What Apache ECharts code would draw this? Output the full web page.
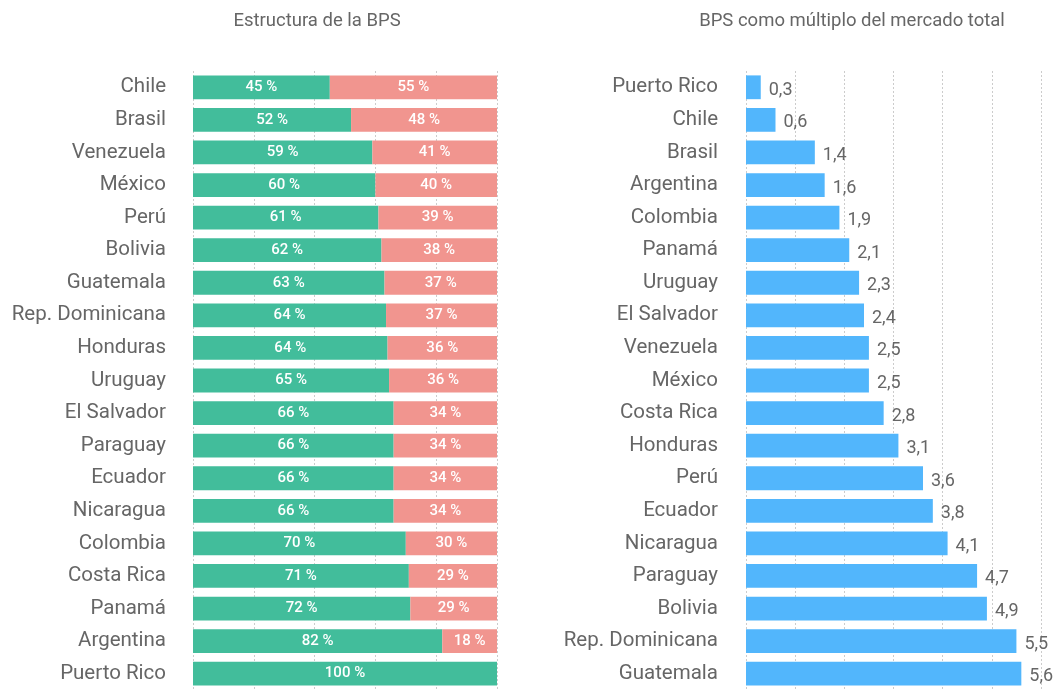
<!DOCTYPE html>
<html>
<head>
<meta charset="utf-8">
<script src="https://cdn.jsdelivr.net/npm/echarts@6/dist/echarts.min.js"></script>
<style>
html, body { margin: 0; padding: 0; background: #fff; }
#main { width: 1063px; height: 690px; }
</style>
</head>
<body>
<div id="main"></div>
<script>
// izquierda: estructura de la BPS (%)
var paisesEstructura = ['Chile', 'Brasil', 'Venezuela', 'México', 'Perú', 'Bolivia', 'Guatemala',
	'Rep. Dominicana', 'Honduras', 'Uruguay', 'El Salvador', 'Paraguay', 'Ecuador', 'Nicaragua',
	'Colombia', 'Costa Rica', 'Panamá', 'Argentina', 'Puerto Rico'];
var parteVerde = [45, 52, 59, 60, 61, 62, 63, 63.5, 64, 64.5, 66, 66, 66, 66, 70, 71, 71.5, 82, 100];
var parteRoja = [55, 48, 41, 40, 39, 38, 37, 36.5, 36, 35.5, 34, 34, 34, 34, 30, 29, 28.5, 18, 0];

// derecha: BPS como multiplo del mercado total
var paisesMultiplo = ['Puerto Rico', 'Chile', 'Brasil', 'Argentina', 'Colombia', 'Panamá', 'Uruguay',
	'El Salvador', 'Venezuela', 'México', 'Costa Rica', 'Honduras', 'Perú', 'Ecuador', 'Nicaragua',
	'Paraguay', 'Bolivia', 'Rep. Dominicana', 'Guatemala'];
var multiplo = [0.3, 0.6, 1.4, 1.6, 1.9, 2.1, 2.3, 2.4, 2.5, 2.5, 2.8, 3.1, 3.6, 3.8, 4.1, 4.7, 4.9, 5.5, 5.6];

var fuente = 'Roboto';
var gris = '#666666';

function etiquetaPct(p) {
	if (!p.value) return '';
	return Math.round(p.value) + ' %';
}

var lineaGuia = { show: true, lineStyle: { color: '#cccccc', type: [2, 2], width: 1 } };

var option = {
	animation: false,
	title: [
		{ text: 'Estructura de la BPS', left: 312, top: 7, textAlign: 'center',
			textStyle: { fontFamily: fuente, fontSize: 18.5, fontWeight: 'normal', color: gris } },
		{ text: 'BPS como múltiplo del mercado total', left: 847, top: 7, textAlign: 'center',
			textStyle: { fontFamily: fuente, fontSize: 18.5, fontWeight: 'normal', color: gris } }
	],
	grid: [
		{ left: 193, top: 71, width: 304, height: 621 },
		{ left: 746, top: 71, width: 295, height: 621 }
	],
	xAxis: [
		{ gridIndex: 0, type: 'value', min: 0, max: 100, interval: 20,
			axisLabel: { show: false }, axisLine: { show: false }, axisTick: { show: false },
			splitLine: lineaGuia },
		{ gridIndex: 1, type: 'value', min: 0, max: 6, interval: 1,
			axisLabel: { show: false }, axisLine: { show: false }, axisTick: { show: false },
			splitLine: lineaGuia }
	],
	yAxis: [
		{ gridIndex: 0, type: 'category', data: paisesEstructura, inverse: true,
			axisLine: { show: false }, axisTick: { show: false },
			axisLabel: { fontFamily: fuente, fontSize: 20.5, color: gris, margin: 27,
				lineHeight: 22, padding: [8, 0, 0, 0] } },
		{ gridIndex: 1, type: 'category', data: paisesMultiplo, inverse: true,
			axisLine: { show: false }, axisTick: { show: false },
			axisLabel: { fontFamily: fuente, fontSize: 20.5, color: gris, margin: 28,
				lineHeight: 22, padding: [8, 0, 0, 0] } }
	],
	series: [
		{
			name: 'verde', type: 'bar', stack: 'bps', xAxisIndex: 0, yAxisIndex: 0,
			data: parteVerde, barCategoryGap: '27%',
			itemStyle: { color: '#42BD9B' },
			label: { show: true, position: 'inside', color: '#fff', fontFamily: fuente,
				fontSize: 15, fontWeight: 500, formatter: etiquetaPct }
		},
		{
			name: 'roja', type: 'bar', stack: 'bps', xAxisIndex: 0, yAxisIndex: 0,
			data: parteRoja, barCategoryGap: '27%',
			itemStyle: { color: '#F1958F' },
			label: { show: true, position: 'inside', color: '#fff', fontFamily: fuente,
				fontSize: 15, fontWeight: 500, formatter: etiquetaPct }
		},
		{
			name: 'multiplo', type: 'bar', xAxisIndex: 1, yAxisIndex: 1,
			data: multiplo, barCategoryGap: '27%',
			itemStyle: { color: '#52B6FC' },
			label: { show: true, position: 'right', distance: 8, offset: [0, 3], color: gris,
				fontFamily: fuente, fontSize: 18,
				formatter: function (p) { return String(p.value).replace('.', ','); } }
		}
	]
};

var myChart = echarts.init(document.getElementById('main'));
myChart.setOption(option);
</script>
</body>
</html>
